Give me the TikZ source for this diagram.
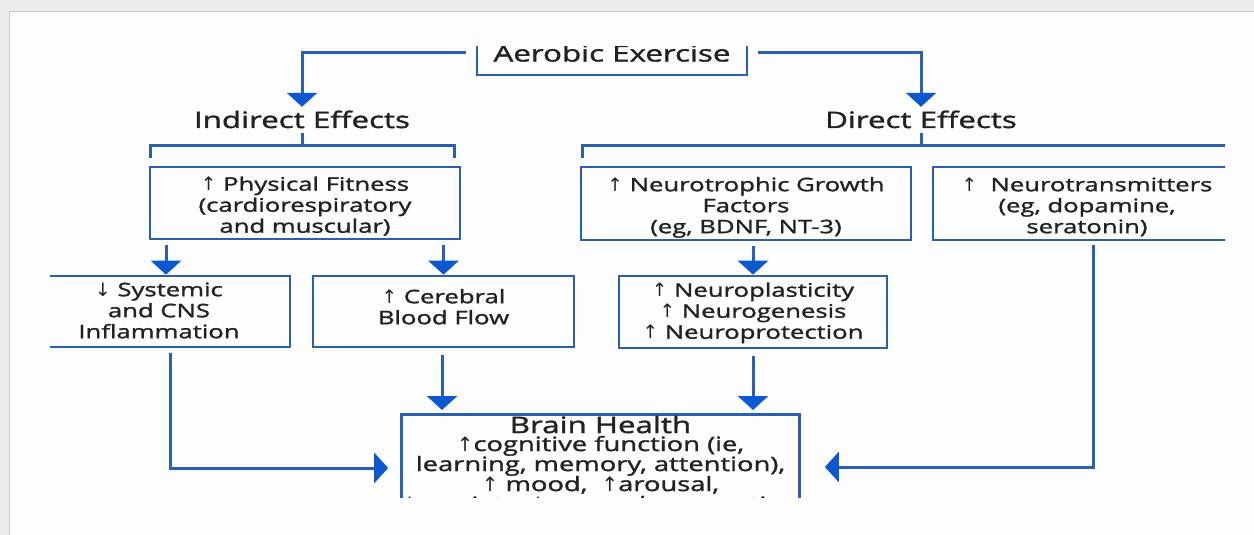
\documentclass[tikz,border=0pt]{standalone}
\usepackage{fontspec}
\setmainfont{Open Sans}[FakeStretch=1.38, FakeBold=1.5]
\newfontfamily\arrowfont{DejaVu Sans}
\usetikzlibrary{arrows.meta}

\definecolor{lineblue}{RGB}{42,96,180}
\definecolor{headblue}{RGB}{12,88,208}
\definecolor{inkgray}{RGB}{34,34,34}
\definecolor{outerbg}{RGB}{236,236,236}
\definecolor{cardbg}{RGB}{253,253,253}
\definecolor{cardedge}{RGB}{200,200,200}

% thin arrow glyphs for increase / decrease
\newcommand\UpA{{\arrowfont ↑}}
\newcommand\DnA{{\arrowfont ↓}}
% centred stack of lines, drawn a little lower than its nominal place
\newcommand\dropstack[2]{\raisebox{-#1}[\height][\depth]{\begin{tabular}{@{}c@{}}#2\end{tabular}}}

\tikzset{
  box/.style={draw=lineblue, line width=2.6pt, align=center, inner sep=0pt,
    text=inkgray, font=\fontsize{18.6}{21}\selectfont},
  head/.style={text=inkgray, font=\fontsize{22.7}{24}\selectfont, inner xsep=0pt,
    inner ysep=5pt, text height=16pt, text depth=0pt, anchor=base},
  conn/.style={draw=lineblue, line width=3pt,
    -{Triangle[width=30pt,length=14pt,color=headblue]}},
  brk/.style={draw=lineblue, line width=3pt},
}

\begin{document}
\begin{tikzpicture}[x=1pt,y=-1pt]
  \useasboundingbox (0,0) rectangle (1254,535);
  \fill[outerbg] (0,0) rectangle (1254,535);
  \filldraw[fill=cardbg, draw=cardedge, line width=1.2pt] (9.5,11.5) rectangle (1270,550);

  \begin{scope}
    \clip (50,47) rectangle (1225,497);

    % source
    \node[box, minimum width=270pt, minimum height=44pt,
      font=\fontsize{22.7}{24}\selectfont] (aero) at (612,53)
      {\raisebox{-2.5pt}{Aerobic Exercise}};

    % branch headings
    \node[head] (ind) at (302,128) {Indirect Effects};
    \node[head] (dir) at (921,128) {Direct Effects};

    % first row
    \node[box, minimum width=310pt, minimum height=72pt] (pf) at (305,203)
      {\dropstack{4.5pt}{\UpA\ Physical Fitness\\(cardiorespiratory\\and muscular)}};
    \node[box, minimum width=330pt, minimum height=73pt] (nt) at (746,203.5)
      {\dropstack{4.5pt}{\UpA\ Neurotrophic Growth\\Factors\\(eg, BDNF, NT-3)}};
    \node[box, minimum width=308pt, minimum height=73pt] (ntr) at (1087,203.5)
      {\dropstack{4.5pt}{\UpA\ \ Neurotransmitters\\(eg, dopamine,\\seratonin)}};

    % second row
    \node[box, minimum width=262pt, minimum height=71pt] (sys) at (159,311.5)
      {\dropstack{1.5pt}{\DnA\ Systemic\\and CNS\\Inflammation}};
    \node[box, minimum width=261pt, minimum height=71pt] (cer) at (443.5,311.5)
      {\dropstack{-2pt}{\UpA\ Cerebral\\Blood Flow}};
    \node[box, minimum width=268pt, minimum height=72pt] (np) at (753,312)
      {\dropstack{1.5pt}{\UpA\ Neuroplasticity\\\UpA\ Neurogenesis\\\UpA\ Neuroprotection}};

    % outcome
    \node[box, minimum width=397pt, anchor=north, inner ysep=1.5pt,
      font=\fontsize{19.8}{20}\selectfont] (brain) at (600.5,413)
      {{\fontsize{22.7}{20}\selectfont Brain Health}\\[-2pt]
       \UpA cognitive function (ie,\\
       learning, memory, attention),\\
       \UpA\ mood, \ \UpA arousal,\\
       \DnA\ anxiety, \DnA\ neurodegeneration};

    % split from the source
    \draw[conn] ([xshift=-10pt]aero.west) -| (ind.north);
    \draw[conn] ([xshift=10pt]aero.east) -| (dir.north);

    % brackets under the headings
    \coordinate (iL) at (150,158);
    \coordinate (iR) at (454,158);
    \coordinate (dL) at (582,158);
    \coordinate (dR) at (1240,145);
    \draw[brk] (ind.south) -- (ind.south |- 0,145);
    \draw[brk] (iL) -- (iL |- 0,145) -- (iR |- 0,145) -- (iR);
    \draw[brk] (dir.south) -- (dir.south |- 0,145);
    \draw[brk] (dL) -- (dL |- dR) -- (dR);

    % first row to second row
    \coordinate (sx) at (166,0);
    \draw[conn, shorten <=5pt] (pf.south -| sx) -- (sys.north -| sx);
    \draw[conn, shorten <=5pt] (pf.south -| cer.north) -- (cer.north);
    \draw[conn, shorten <=5pt] (nt.south -| np.north) -- (np.north);

    % into brain health
    \coordinate (jL) at (170,468);
    \coordinate (jR) at (1093,467);
    \draw[conn, shorten <=5pt] (sys.south -| jL) |- ([xshift=-12pt]brain.west |- jL);
    \draw[conn, shorten <=7pt, shorten >=3pt] (cer.south -| 442,0) -- (brain.north -| 442,0);
    \draw[conn, shorten <=7pt, shorten >=3pt] (np.south) -- (np.south |- brain.north);
    \draw[conn, shorten <=4pt] (ntr.south -| jR) |- ([xshift=24pt]brain.east |- jR);
  \end{scope}
\end{tikzpicture}
\end{document}
